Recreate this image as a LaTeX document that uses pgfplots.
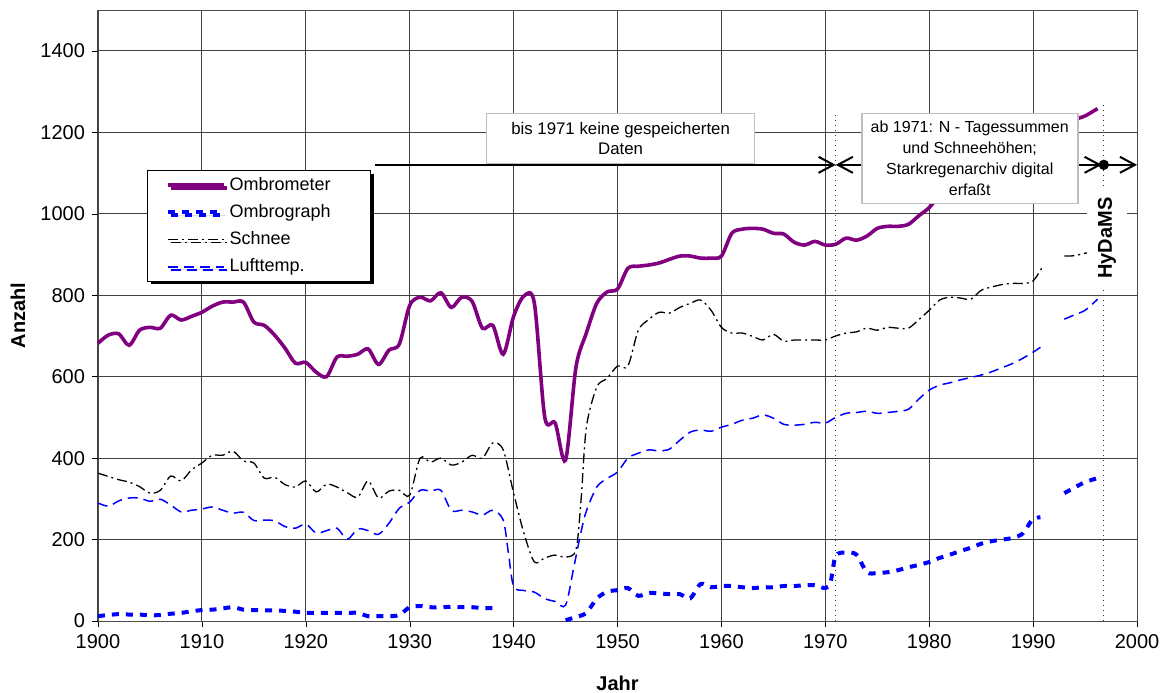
\documentclass[border=0pt]{standalone}
\usepackage{fontspec}
\setmainfont{Liberation Sans}
\usepackage{pgfplots}
\pgfplotsset{compat=1.18}
\usetikzlibrary{arrows.meta,shadows}
\definecolor{ombro}{RGB}{128,0,128}
\begin{document}
\begin{tikzpicture}
\begin{axis}[
  scale only axis, width=519.5pt, height=305.5pt,
  xmin=1900, xmax=2000, ymin=0, ymax=1500,
  xtick={1900,1910,...,2000}, ytick={0,200,...,1400},
  grid=major, major grid style={black!75, line width=0.5pt},
  axis line style={black!70},
  tick pos=left, tick align=outside, major tick length=3pt, tick style={black},
  /pgf/number format/1000 sep={},
  /pgf/number format/assume math mode=true,
  ticklabel style={font=\fontsize{10}{12}\selectfont},
  xticklabel style={inner xsep=0pt},
  xlabel={\textbf{Jahr}}, ylabel={\textbf{Anzahl}},
  label style={font=\fontsize{10}{12}\selectfont, inner sep=0pt},
  xlabel style={at={(axis description cs:0.5,-0.1015)}, anchor=center},
  ylabel style={at={(axis description cs:-0.077,0.5)}, anchor=center},
  unbounded coords=jump,
  clip=false,
  legend cell align=left,
  legend style={at={(axis description cs:0.0472,0.738)}, anchor=north west,
    draw=black, fill=white, line width=0.5pt,
    font=\fontsize{9}{11}\selectfont,
    inner xsep=9pt, inner ysep=1.2pt, row sep=1.6pt,
    drop shadow={shadow xshift=1.5pt, shadow yshift=-1.5pt, fill=black, opacity=1}},
  legend image code/.code={\draw[#1] (0pt,0pt) -- (28pt,0pt);},
]
% Ombrometer
\addplot[ombro, line width=1.8pt, smooth] coordinates {
(1900,682)(1901,702)(1902,705)(1903,677)(1904,714)(1905,721)(1906,719)(1907,751)(1908,739)(1909,748)
(1910,758)(1911,773)(1912,783)(1913,783)(1914,783)(1915,734)(1916,726)(1917,702)(1918,670)(1919,633)
(1920,635)(1921,611)(1922,600)(1923,648)(1924,650)(1925,655)(1926,668)(1927,630)(1928,665)(1929,680)
(1930,775)(1931,795)(1932,786)(1933,806)(1934,770)(1935,795)(1936,785)(1937,719)(1938,726)(1939,655)
(1940,748)(1941,798)(1942,780)(1943,500)(1944,486)(1945,395)(1946,623)(1947,707)(1948,780)(1949,808)
(1950,815)(1951,866)(1952,871)(1953,874)(1954,879)(1955,888)(1956,896)(1957,896)(1958,891)(1959,891)
(1960,896)(1961,952)(1962,962)(1963,964)(1964,962)(1965,952)(1966,950)(1967,930)(1968,923)(1969,932)
(1970,923)(1971,925)(1972,940)(1973,935)(1974,945)(1975,964)(1976,969)(1977,969)(1978,974)(1979,995)
(1980,1015)(1981,1045)(1982,1065)(1983,1085)(1984,1105)(1985,1125)(1986,1145)(1987,1160)(1988,1175)(1989,1190)
(1990,1200)(1990.7,1210)(1991.5,nan)(1993,1222)(1994.2,1233)(1995,1240)(1996.2,1258)
};
\addlegendentry{Ombrometer\hspace*{9pt}}
% Ombrograph
\addplot[blue, line width=2pt, dash pattern=on 3.5pt off 3.5pt, smooth] coordinates {
(1900,12)(1901,15)(1902,17)(1903,16)(1904,16)(1905,14)(1906,15)(1907,18)(1908,20)(1909,24)
(1910,27)(1911,28)(1912,31)(1913,34)(1914,28)(1915,27)(1916,26)(1917,26)(1918,25)(1919,23)
(1920,20)(1921,20)(1922,20)(1923,20)(1924,20)(1925,20)(1926,12)(1927,12)(1928,12)(1929,15)
(1930,34)(1931,37)(1932,34)(1933,34)(1934,35)(1935,34)(1936,34)(1937,32)(1938,32)(1938.5,30)
(1941,nan)
(1945,2)(1946,10)(1947,20)(1948,55)(1949,72)(1950,76)(1951,81)(1952,62)(1953,69)(1954,68)
(1955,66)(1956,66)(1957,56)(1958,91)(1959,83)(1960,86)(1961,86)(1962,83)(1963,81)(1964,83)
(1965,83)(1966,86)(1967,86)(1968,88)(1969,88)(1970,81)(1970.5,95)(1971,160)(1972,168)(1973,163)
(1974,120)(1975,118)(1976,120)(1977,125)(1978,132)(1979,138)(1980,145)(1981,155)(1982,163)(1983,172)
(1984,180)(1985,190)(1986,196)(1987,200)(1988,204)(1989,215)(1989.9,248)(1990.7,255)
(1991.5,nan)
(1993,314)(1994,328)(1995,341)(1996.2,351)
};
\addlegendentry{Ombrograph}
% Schnee
\addplot[black, line width=0.65pt, dash pattern=on 5pt off 2pt on 1pt off 2pt, smooth] coordinates {
(1900,363)(1901,355)(1902,347)(1903,341)(1904,330)(1905,314)(1906,321)(1907,356)(1908,344)(1909,371)
(1910,388)(1911,407)(1912,407)(1913,417)(1914,393)(1915,388)(1916,351)(1917,353)(1918,335)(1919,329)
(1920,344)(1921,317)(1922,336)(1923,329)(1924,315)(1925,304)(1926,344)(1927,302)(1928,319)(1929,321)
(1930,309)(1931,400)(1932,390)(1933,400)(1934,383)(1935,390)(1936,407)(1937,400)(1938,437)(1939,420)
(1940,314)(1941,215)(1942,145)(1943,155)(1944,162)(1945,157)(1946,175)(1946.5,300)(1947,475)(1948,574)
(1949,596)(1950,626)(1951,626)(1952,714)(1953,740)(1954,758)(1955,756)(1956,770)(1957,780)(1958,788)
(1959,763)(1960,721)(1961,707)(1962,707)(1963,699)(1964,690)(1965,704)(1966,687)(1967,690)(1968,690)
(1969,690)(1970,690)(1971,700)(1972,707)(1973,710)(1974,719)(1975,714)(1976,721)(1977,719)(1978,719)
(1979,740)(1980,763)(1981,788)(1982,795)(1983,793)(1984,790)(1985,812)(1986,820)(1987,826)(1988,829)
(1989,829)(1990,835)(1991,874)
(1992,nan)
(1993,896)(1994,897)(1995,903)(1996.2,908)
};
\addlegendentry{Schnee}
% Lufttemp
\addplot[blue, line width=0.75pt, dash pattern=on 5pt off 3pt, smooth] coordinates {
(1900,290)(1901,282)(1902,295)(1903,302)(1904,302)(1905,294)(1906,299)(1907,285)(1908,268)(1909,272)
(1910,275)(1911,280)(1912,272)(1913,265)(1914,267)(1915,247)(1916,248)(1917,246)(1918,232)(1919,228)
(1920,238)(1921,216)(1922,222)(1923,228)(1924,201)(1925,226)(1926,222)(1927,213)(1928,240)(1929,277)
(1930,292)(1931,321)(1932,319)(1933,321)(1934,272)(1935,272)(1936,268)(1937,260)(1938,272)(1939,248)
(1939.5,167)(1940,85)(1941,75)(1942,71)(1943,55)(1944,48)(1945,39)(1945.8,133)(1946.5,220)(1947,270)
(1948,329)(1949,350)(1950,366)(1951,400)(1952,412)(1953,420)(1954,418)(1955,422)(1956,444)(1957,464)
(1958,469)(1959,466)(1960,476)(1961,483)(1962,493)(1963,498)(1964,506)(1965,498)(1966,483)(1967,481)
(1968,483)(1969,488)(1970,486)(1971,500)(1972,510)(1973,512)(1974,515)(1975,510)(1976,512)(1977,515)
(1978,520)(1979,545)(1980,567)(1981,579)(1982,585)(1983,592)(1984,598)(1985,604)(1986,612)(1987,622)
(1988,632)(1989,645)(1990,660)(1990.7,672)
(1991.5,nan)
(1993,741)(1994,752)(1995,763)(1996.2,790)
};
\addlegendentry{Lufttemp.}
% annotations
\draw[black!80, line width=0.5pt, dotted] (axis cs:1971,0) -- (axis cs:1971,1247);
\draw[black!80, line width=0.5pt, dotted] (axis cs:1996.8,0) -- (axis cs:1996.8,1271);
\draw[line width=1pt, -{Straight Barb[length=7.5pt,width=8pt]}] (axis cs:1926.7,1120) -- (axis cs:1971,1120);
\draw[line width=1pt, {Straight Barb[length=7.5pt,width=8pt]}-{Straight Barb[length=7.5pt,width=8pt]}] (axis cs:1971,1120) -- (axis cs:1996.6,1120);
\draw[line width=1pt, -{Straight Barb[length=7.5pt,width=8pt]}] (axis cs:1996.8,1120) -- (axis cs:2000,1120);
\fill (axis cs:1996.8,1120) circle (2.6pt);
\node[draw=black!25, line width=0.8pt, fill=white, minimum width=134pt, minimum height=25pt, inner sep=1pt,
  align=center, font=\fontsize{8.4}{10}\selectfont] at (axis cs:1950.3,1185)
  {bis 1971 keine gespeicherten\\Daten};
\node[draw=black!25, line width=0.8pt, fill=white, minimum width=108pt, minimum height=45pt, inner sep=1pt,
  align=center, font=\fontsize{8}{10.5}\selectfont] at (axis cs:1983.9,1136)
  {ab 1971: N - Tagessummen\\und Schneehöhen;\\Starkregenarchiv digital\\erfaßt};
\node[fill=white, rotate=90, minimum width=51pt, minimum height=20pt, inner sep=0pt,
  font=\fontsize{10}{10}\selectfont\bfseries] at (axis cs:1997.1,940) {HyDaMS};
\path (axis description cs:-0.0943,1.0164) (axis description cs:1.0221,-0.1162);
\end{axis}
\end{tikzpicture}
\end{document}
